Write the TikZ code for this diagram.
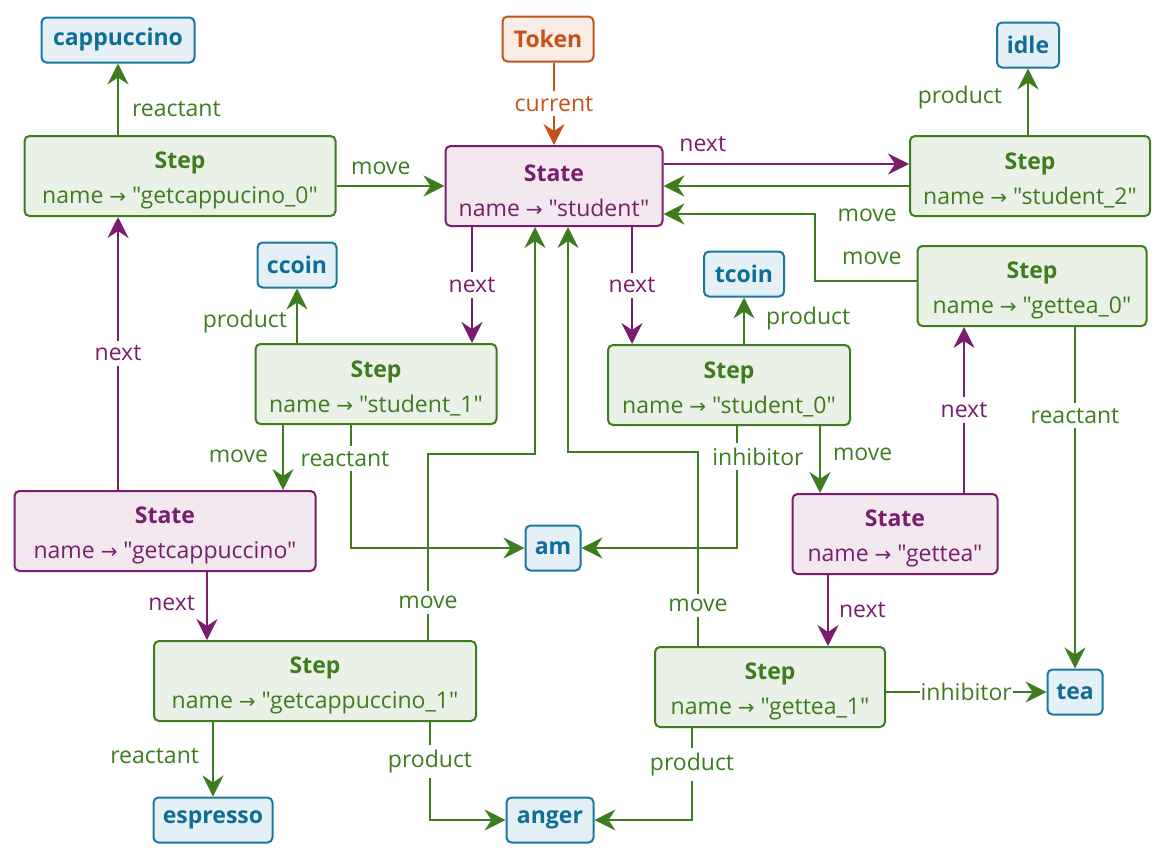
\documentclass[tikz,border=0pt]{standalone}
\usepackage{fontspec}
\setmainfont{Open Sans}[Ligatures=TeXOff]
\newfontfamily\arrowfont{DejaVu Sans}
\usetikzlibrary{arrows.meta, positioning, calc}
\definecolor{cStep}{RGB}{62,124,32}
\definecolor{cStepFill}{RGB}{234,241,230}
\definecolor{cState}{RGB}{120,30,108}
\definecolor{cStateFill}{RGB}{243,231,240}
\definecolor{cRes}{RGB}{26,120,160}
\definecolor{cResText}{RGB}{16,110,150}
\definecolor{cResFill}{RGB}{228,240,246}
\definecolor{cToken}{RGB}{196,82,26}
\definecolor{cTokenFill}{RGB}{249,236,230}
\newcommand{\objtext}[2]{\rule{0pt}{26pt}\textbf{#1}\\name {\arrowfont\fontsize{20}{24}\selectfont→} "#2"}
\tikzset{
	stepbox/.style  ={rectangle, rounded corners=5pt, line width=2pt, draw=cStep, fill=cStepFill, text=cStep, align=center, minimum height=80pt, inner xsep=4pt, inner ysep=2pt},
	statebox/.style ={stepbox, draw=cState, fill=cStateFill, text=cState},
	resbox/.style   ={rectangle, rounded corners=5pt, line width=2pt, draw=cRes, fill=cResFill, text=cResText, font=\bfseries\fontsize{23}{28}\selectfont, minimum height=45pt, inner xsep=4pt},
	tokenbox/.style ={resbox, draw=cToken, fill=cTokenFill, text=cToken},
	rel/.style      ={-{Stealth[length=21pt, width=21pt, inset=7pt]}, line width=2pt, draw=cStep},
	nextrel/.style  ={rel, draw=cState},
	lbl/.style      ={text=cStep, inner sep=3pt},
	onlbl/.style    ={lbl, fill=white, inner ysep=5pt},
	nlbl/.style     ={lbl, text=cState},
	onnlbl/.style   ={onlbl, text=cState},
}
\begin{document}
\begin{tikzpicture}[x=1pt, y=-1pt, every node/.style={font=\fontsize{23}{35}\selectfont}]
	\useasboundingbox (0,0) rectangle (1168,860);
	% resources and token
	\node[tokenbox, minimum width=91pt] (tok) at (548,39) {Token};
	\node[resbox, minimum width=153pt] (cap) at (118,40) {cappuccino};
	\node[resbox, minimum width=62pt] (idle) at (1028,45) {idle};
	\node[resbox, minimum width=79pt] (ccoin) at (297,265) {ccoin};
	\node[resbox, minimum width=80pt] (tcoin) at (744,274) {tcoin};
	\node[resbox, minimum width=55pt] (am) at (553,548) {am};
	\node[resbox, minimum width=55pt] (tea) at (1075,692) {tea};
	\node[resbox, minimum width=119pt] (esp) at (213,820) {espresso};
	\node[resbox, minimum width=87pt] (anger) at (550,820) {anger};
	% states
	\node[statebox, minimum width=217pt] (stu) at (554,186) {\objtext{State}{student}};
	\node[statebox, minimum width=301pt] (gc) at (165,531) {\objtext{State}{getcappuccino}};
	\node[statebox, minimum width=205pt] (gt) at (895,534) {\objtext{State}{gettea}};
	% steps
	\node[stepbox, minimum width=311pt] (gc0) at (180,176) {\objtext{Step}{getcappucino\_0}};
	\node[stepbox, minimum width=240pt] (s2) at (1030,176) {\objtext{Step}{student\_2}};
	\node[stepbox, minimum width=229pt] (gt0) at (1032,286) {\objtext{Step}{gettea\_0}};
	\node[stepbox, minimum width=241pt] (s1) at (376,384) {\objtext{Step}{student\_1}};
	\node[stepbox, minimum width=242pt] (s0) at (729,385) {\objtext{Step}{student\_0}};
	\node[stepbox, minimum width=322pt] (gc1) at (315,681) {\objtext{Step}{getcappuccino\_1}};
	\node[stepbox, minimum width=230pt] (gt1) at (770,687) {\objtext{Step}{gettea\_1}};
	% token
	\draw[rel, draw=cToken] (stu.north |- tok.south) -- node[onlbl, text=cToken] {current} (stu.north);
	% next links
	\draw[nextrel] (stu.east |- 0,164) -- node[nlbl, pos=0.16, above=8pt] {next} (s2.west |- 0,164);
	\draw[nextrel] (stu.south -| 472,0) -- node[onnlbl] {next} (s1.north -| 472,0);
	\draw[nextrel] (stu.south -| 632,0) -- node[onnlbl] {next} (s0.north -| 632,0);
	\draw[nextrel] (gc.north -| 118,0) -- node[onnlbl] {next} (gc0.south -| 118,0);
	\draw[nextrel] (gt.north -| 964,0) -- node[onnlbl] {next} (gt0.south -| 964,0);
	\draw[nextrel] (gc.south -| 207,0) -- node[nlbl, left=8pt, pos=0.45] {next} (gc1.north -| 207,0);
	\draw[nextrel] (gt.south -| 828,0) -- node[nlbl, right=7pt, pos=0.5] {next} (gt1.north -| 828,0);
	% move links
	\draw[rel] (gc0.east |- stu) -- node[lbl, above=7pt, pos=0.41] {move} (stu);
	\draw[rel] (s2.west |- stu) -- node[lbl, below=19pt, pos=0.17] {move} (stu);
	\draw[rel] (gt0.west |- 0,281) -| node[lbl, above=12pt, pos=0.22] {move} (815,214) -- (stu.east |- 0,214);
	\draw[rel] (s1.south -| 283,0) -- node[lbl, left=11pt, pos=0.48] {move} (gc.north -| 283,0);
	\draw[rel] (s0.south -| 820,0) -- node[lbl, right=9pt, pos=0.42] {move} (gt.north -| 820,0);
	\draw[rel] (gc1.north -| 428,0) |- node[onlbl, pos=0.1] {move} (535,454) -- (stu.south -| 535,0);
	\draw[rel] (gt1.north -| 698,0) |- node[onlbl, pos=0.105] {move} (568,452) -- (stu.south -| 568,0);
	% reactants, products, inhibitors
	\draw[rel] (gc0.north -| cap) -- node[lbl, right=10pt, pos=0.36] {reactant} (cap);
	\draw[rel] (s2.north -| idle) -- node[lbl, left=22pt, pos=0.56] {product} (idle);
	\draw[rel] (s1.north -| ccoin) -- node[lbl, left=6pt, pos=0.4] {product} (ccoin);
	\draw[rel] (s0.north -| tcoin) -- node[lbl, right=18pt, pos=0.55] {product} (tcoin);
	\draw[rel] (s1.south -| 351,0) |- node[onlbl, pos=0.137, xshift=-6pt] {reactant} (am);
	\draw[rel] (s0.south -| 737,0) |- node[onlbl, pos=0.125, xshift=21pt] {inhibitor} (am);
	\draw[rel] (gt0.south -| tea) -- node[onlbl, pos=0.26] {reactant} (tea);
	\draw[rel] (gt1.east |- tea) -- node[onlbl, inner xsep=1pt] {inhibitor} (tea);
	\draw[rel] (gc1.south -| esp) -- node[lbl, left=10pt, pos=0.45] {reactant} (esp);
	\draw[rel] (gc1.south -| 430,0) |- node[onlbl, pos=0.2] {product} (anger);
	\draw[rel] (gt1.south -| 692,0) |- node[onlbl, pos=0.2] {product} (anger);
\end{tikzpicture}
\end{document}
